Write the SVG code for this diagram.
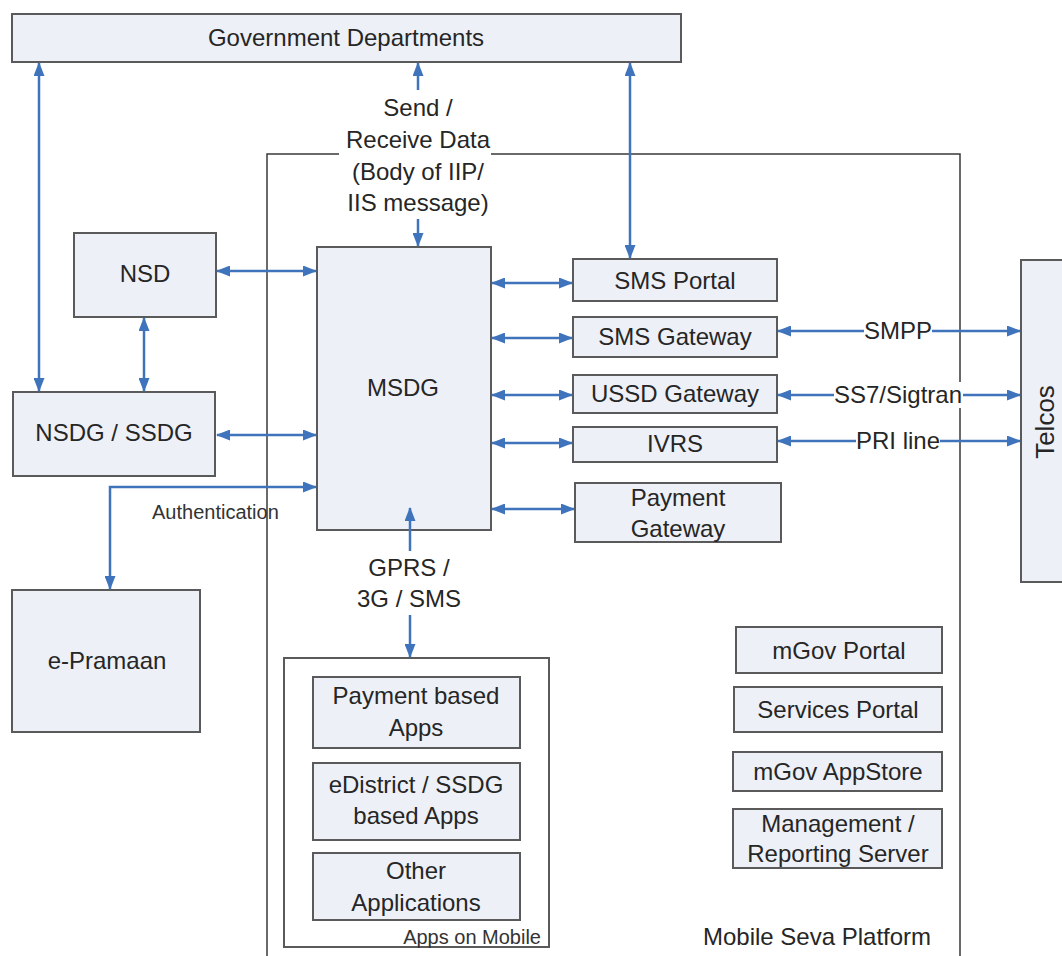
<svg xmlns="http://www.w3.org/2000/svg" width="1062" height="956" viewBox="0 0 1062 956">
<style>
.box{fill:#edf0f6;stroke:#5a5a5a;stroke-width:2}
.frame{fill:none;stroke:#3a3a3a;stroke-width:1.5}
.t{font-family:"Liberation Sans",Arial,sans-serif;font-size:24px;fill:#262626;text-anchor:middle;dominant-baseline:central}
.s{font-family:"Liberation Sans",Arial,sans-serif;font-size:20px;fill:#333;dominant-baseline:central}
.c{fill:none;stroke:#3f74bd;stroke-width:2.5}
.d{marker-start:url(#ah);marker-end:url(#ah)}
.e{marker-end:url(#ah)}
.bg{fill:#fff}
</style>
<defs>
<marker id="ah" viewBox="0 0 14 11" refX="13" refY="5.5" markerWidth="14" markerHeight="11" markerUnits="userSpaceOnUse" orient="auto-start-reverse">
<path d="M0,0 L14,5.5 L0,11 z" fill="#3f74bd"/>
</marker>
</defs>
<rect width="1062" height="956" fill="#fff"/>

<g id="mobile-seva-platform">
<path class="frame" d="M267,956 V154 H339 M491,154 H960 V956"/>
<text class="t" x="817" y="936">Mobile Seva Platform</text>
</g>

<g id="government-departments">
<rect class="box" x="12" y="14" width="669" height="48"/>
<text class="t" x="346" y="37">Government Departments</text>
</g>

<g id="nsd">
<rect class="box" x="74" y="233" width="142" height="84"/>
<text class="t" x="145" y="273">NSD</text>
</g>

<g id="nsdg-ssdg">
<rect class="box" x="13" y="392" width="202" height="84"/>
<text class="t" x="114" y="432">NSDG / SSDG</text>
</g>

<g id="e-pramaan">
<rect class="box" x="12" y="590" width="188" height="142"/>
<text class="t" x="107" y="660">e-Pramaan</text>
</g>

<g id="msdg">
<rect class="box" x="317" y="247" width="174" height="283"/>
<text class="t" x="403" y="387">MSDG</text>
</g>

<g id="sms-portal">
<rect class="box" x="573" y="259" width="204" height="42"/>
<text class="t" x="675" y="280">SMS Portal</text>
</g>

<g id="sms-gateway">
<rect class="box" x="573" y="317" width="204" height="40"/>
<text class="t" x="675" y="336">SMS Gateway</text>
</g>

<g id="ussd-gateway">
<rect class="box" x="573" y="375" width="204" height="38"/>
<text class="t" x="675" y="393">USSD Gateway</text>
</g>

<g id="ivrs">
<rect class="box" x="573" y="427" width="204" height="35"/>
<text class="t" x="675" y="443">IVRS</text>
</g>

<g id="payment-gateway">
<rect class="box" x="575" y="483" width="206" height="59"/>
<text class="t" x="678" y="497">Payment</text>
<text class="t" x="678" y="528">Gateway</text>
</g>

<g id="telcos">
<rect class="box" x="1021" y="260" width="50" height="322"/>
<text class="t" x="0" y="0" style="font-size:26px" transform="translate(1045,422) rotate(-90)">Telcos</text>
</g>

<g id="apps-on-mobile">
<rect class="box" x="284" y="658" width="265" height="289" style="fill:#fff"/>
<text class="s" x="541" y="937" text-anchor="end">Apps on Mobile</text>
</g>

<g id="payment-based-apps">
<rect class="box" x="313" y="677" width="207" height="71"/>
<text class="t" x="416" y="695">Payment based</text>
<text class="t" x="416" y="727">Apps</text>
</g>

<g id="edistrict-apps">
<rect class="box" x="313" y="763" width="207" height="77"/>
<text class="t" x="416" y="784">eDistrict / SSDG</text>
<text class="t" x="416" y="815">based Apps</text>
</g>

<g id="other-applications">
<rect class="box" x="313" y="853" width="207" height="67"/>
<text class="t" x="416" y="870">Other</text>
<text class="t" x="416" y="902">Applications</text>
</g>

<g id="mgov-portal">
<rect class="box" x="736" y="627" width="206" height="46"/>
<text class="t" x="839" y="650">mGov Portal</text>
</g>

<g id="services-portal">
<rect class="box" x="734" y="687" width="208" height="45"/>
<text class="t" x="838" y="709">Services Portal</text>
</g>

<g id="mgov-appstore">
<rect class="box" x="733" y="752" width="209" height="39"/>
<text class="t" x="838" y="771">mGov AppStore</text>
</g>

<g id="management-server">
<rect class="box" x="733" y="809" width="209" height="59"/>
<text class="t" x="838" y="823">Management /</text>
<text class="t" x="838" y="853">Reporting Server</text>
</g>

<g id="connectors">
<line class="c d" x1="39" y1="63" x2="39" y2="391"/>
<line class="c e" x1="418" y1="90" x2="418" y2="63"/>
<line class="c e" x1="418" y1="219" x2="418" y2="246"/>
<line class="c d" x1="630" y1="63" x2="630" y2="258"/>
<line class="c d" x1="217" y1="271" x2="316" y2="271"/>
<line class="c d" x1="144" y1="318" x2="144" y2="391"/>
<line class="c d" x1="217" y1="435" x2="316" y2="435"/>
<polyline class="c d" points="316,487 110,487 110,589"/>
<line class="c d" x1="492" y1="283" x2="572" y2="283"/>
<line class="c d" x1="492" y1="338" x2="572" y2="338"/>
<line class="c d" x1="492" y1="395" x2="572" y2="395"/>
<line class="c d" x1="492" y1="443" x2="572" y2="443"/>
<line class="c d" x1="492" y1="509" x2="574" y2="509"/>
<line class="c d" x1="778" y1="331" x2="1020" y2="331"/>
<line class="c d" x1="778" y1="395" x2="1020" y2="395"/>
<line class="c d" x1="778" y1="441" x2="1020" y2="441"/>
<line class="c e" x1="410" y1="551" x2="410" y2="508"/>
<line class="c e" x1="410" y1="615" x2="410" y2="657"/>
</g>

<g id="labels">
<rect class="bg" x="342" y="92" width="148" height="124"/>
<text class="t" x="418" y="107">Send /</text>
<text class="t" x="418" y="139">Receive Data</text>
<text class="t" x="418" y="171">(Body of IIP/</text>
<text class="t" x="418" y="202">IIS message)</text>
<rect class="bg" x="864" y="318" width="68" height="26"/>
<text class="t" x="898" y="330">SMPP</text>
<rect class="bg" x="834" y="382" width="129" height="26"/>
<text class="t" x="898" y="394">SS7/Sigtran</text>
<rect class="bg" x="856" y="428" width="84" height="26"/>
<text class="t" x="898" y="440">PRI line</text>
<text class="s" x="152" y="512">Authentication</text>
<text class="t" x="409" y="567">GPRS /</text>
<text class="t" x="409" y="598">3G / SMS</text>
</g>
</svg>
